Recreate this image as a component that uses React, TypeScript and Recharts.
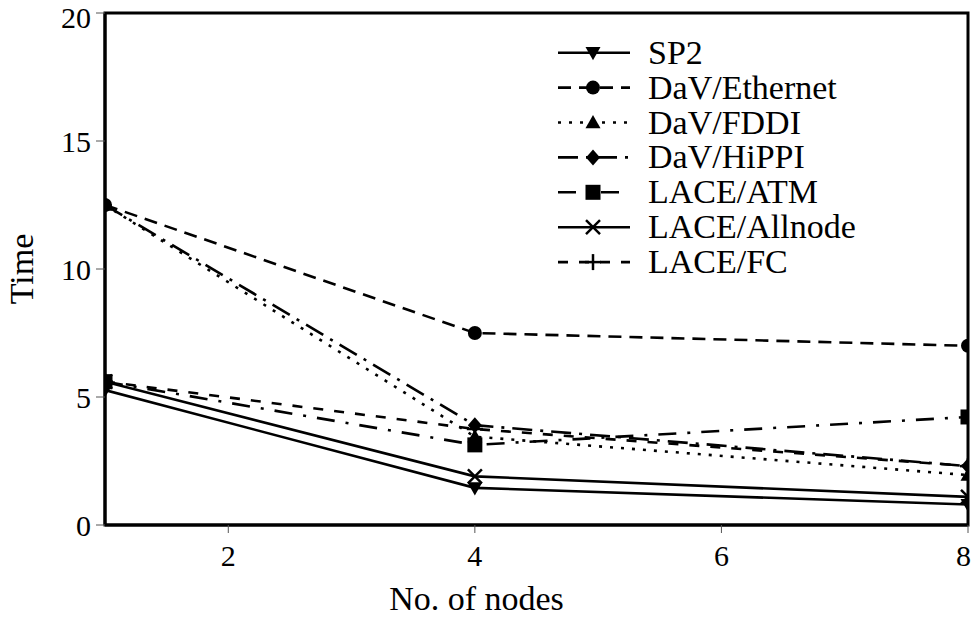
import { LineChart, Line, XAxis, YAxis, ReferenceArea } from "recharts";

const FONT = "'Liberation Serif', 'Times New Roman', serif";

// x = number of nodes, y = time
const nodes = [1, 4, 8];
const sp2 = [5.27, 1.45, 0.8];
const davEthernet = [12.5, 7.5, 7.0];
const davFddi = [12.5, 3.45, 1.95];
const davHippi = [12.5, 3.9, 2.3];
const laceAtm = [5.6, 3.13, 4.22];
const laceAllnode = [5.6, 1.9, 1.1];
const laceFc = [5.6, 3.75, 2.3];

const xTicks = [2, 4, 6, 8];
const yTicks = [0, 5, 10, 15, 20];

const SERIES = [
  { key: "sp2", name: "SP2", values: sp2, dash: undefined, marker: "down" },
  { key: "eth", name: "DaV/Ethernet", values: davEthernet, dash: "13 8", marker: "circle" },
  { key: "fddi", name: "DaV/FDDI", values: davFddi, dash: "3 8", marker: "up" },
  { key: "hippi", name: "DaV/HiPPI", values: davHippi, dash: "20 8 3 8", marker: "diamond" },
  { key: "atm", name: "LACE/ATM", values: laceAtm, dash: "18 11 3 11", marker: "square" },
  { key: "allnode", name: "LACE/Allnode", values: laceAllnode, dash: undefined, marker: "x" },
  { key: "fc", name: "LACE/FC", values: laceFc, dash: "10 11", marker: "plus" },
];

const data = nodes.map((n, i) => {
  const row: any = { n };
  SERIES.forEach(s => { row[s.key] = s.values[i]; });
  return row;
});

// chart box
const W = 971, H = 631;
const M = { top: 13, right: 3, left: 0, bottom: 0 };
const Y_W = 105, X_H = 106;

function Marker({ shape, cx, cy, clip }: { shape: string; cx: number; cy: number; clip?: string }) {
  const s = 7.5;
  let el;
  switch (shape) {
    case "down":
      el = <polygon points={`${cx - s},${cy - s * 0.75} ${cx + s},${cy - s * 0.75} ${cx},${cy + s}`} fill="#000" />; break;
    case "up":
      el = <polygon points={`${cx - s},${cy + s * 0.75} ${cx + s},${cy + s * 0.75} ${cx},${cy - s}`} fill="#000" />; break;
    case "circle":
      el = <circle cx={cx} cy={cy} r={7} fill="#000" />; break;
    case "diamond":
      el = <polygon points={`${cx},${cy - 8} ${cx + 7},${cy} ${cx},${cy + 8} ${cx - 7},${cy}`} fill="#000" />; break;
    case "square":
      el = <rect x={cx - 7.5} y={cy - 7.5} width={15} height={15} fill="#000" />; break;
    case "x":
      el = (
        <g stroke="#000" strokeWidth={2.5}>
          <line x1={cx - 7} y1={cy - 7} x2={cx + 7} y2={cy + 7} />
          <line x1={cx - 7} y1={cy + 7} x2={cx + 7} y2={cy - 7} />
        </g>
      ); break;
    default:
      el = (
        <g stroke="#000" strokeWidth={2.5}>
          <line x1={cx - 8} y1={cy} x2={cx + 8} y2={cy} />
          <line x1={cx} y1={cy - 8} x2={cx} y2={cy + 8} />
        </g>
      );
  }
  return <g clipPath={clip}>{el}</g>;
}

function LegendBox() {
  return (
    <svg width={360} height={260}>
      {SERIES.map((s, i) => {
        const y = 17.7 + i * 34.9;
        return (
          <g key={s.key}>
            <line x1={8} y1={y} x2={80} y2={y} stroke="#000" strokeWidth={2.6} strokeDasharray={s.dash} />
            <Marker shape={s.marker} cx={43} cy={y} />
            <text x={98} y={y + 11} fontSize={34} fontFamily={FONT} fill="#000">{s.name}</text>
          </g>
        );
      })}
    </svg>
  );
}

export default function App() {
  return (
    <div style={{ position: "absolute", left: 0, top: 0, width: W, height: H, background: "#fff" }}>
      {/* plot-area clip so end markers are cut at the frame */}
      <svg width={0} height={0} style={{ position: "absolute" }}>
        <defs>
          <clipPath id="plotClip">
            <rect x={M.left + Y_W} y={M.top} width={W - M.left - M.right - Y_W} height={H - M.top - M.bottom - X_H} />
          </clipPath>
        </defs>
      </svg>
      <LineChart width={W} height={H} data={data} margin={M}>
        <XAxis
          dataKey="n" type="number" domain={[1, 8]} ticks={xTicks} allowDataOverflow
          height={X_H} tickSize={8} tickMargin={12}
          axisLine={{ stroke: "#000", strokeWidth: 3 }} tickLine={{ stroke: "#555", strokeWidth: 1 }}
          tick={{ fontSize: 30, fill: "#000", fontFamily: FONT }}
          label={{ value: "No. of nodes", position: "center", dx: -60, dy: 20, fontSize: 34, fill: "#000", fontFamily: FONT }}
        />
        <YAxis
          type="number" domain={[0, 20]} ticks={yTicks} allowDataOverflow
          width={Y_W} tickSize={9} tickMargin={5}
          axisLine={{ stroke: "#000", strokeWidth: 3 }} tickLine={{ stroke: "#555", strokeWidth: 1 }}
          tick={{ fontSize: 30, fill: "#000", fontFamily: FONT }}
          label={{ value: "Time", angle: -90, position: "center", dx: -32, fontSize: 34, fill: "#000", fontFamily: FONT }}
        />
        {SERIES.map(s => (
          <Line
            key={s.key} dataKey={s.key} name={s.name} type="linear"
            stroke="#000" strokeWidth={2.6} strokeDasharray={s.dash}
            dot={(p: any) => <Marker key={`${s.key}-${p.index}`} shape={s.marker} cx={p.cx} cy={p.cy} clip="url(#plotClip)" />}
            activeDot={false} isAnimationActive={false}
          />
        ))}
        <ReferenceArea x1={1} x2={8} y1={0} y2={20} fill="none" fillOpacity={0} stroke="#000" strokeWidth={3} />
      </LineChart>
      <div style={{ position: "absolute", left: 550, top: 35 }}>
        <LegendBox />
      </div>
    </div>
  );
}
